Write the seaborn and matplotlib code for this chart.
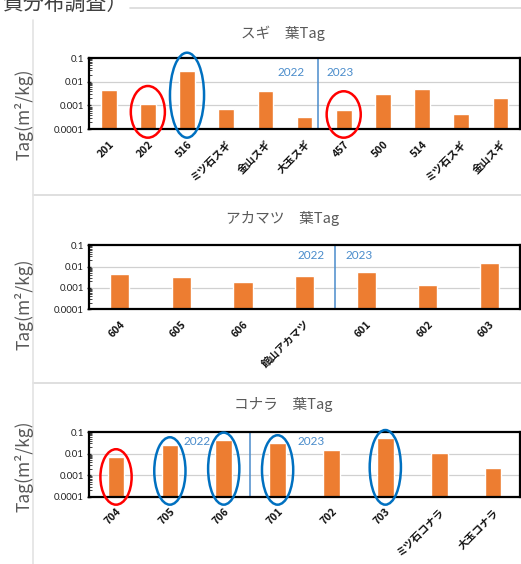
import numpy as np
import pandas as pd
import seaborn as sns
import matplotlib.pyplot as plt
from matplotlib.patches import Ellipse
from matplotlib.lines import Line2D
from matplotlib.transforms import blended_transform_factory
from matplotlib.ticker import LogLocator, NullFormatter, FixedLocator

# --- data ---
sugi_labels = ["201", "202", "516", "ミツ石スギ", "金山スギ", "大玉スギ",
               "457", "500", "514", "ミツ石スギ", "金山スギ"]
sugi_values = [0.0046, 0.0011, 0.028, 0.0007, 0.0042, 0.00034,
               0.00066, 0.0031, 0.0048, 0.00045, 0.0020]

akamatsu_labels = ["604", "605", "606", "館山アカマツ", "601", "602", "603"]
akamatsu_values = [0.0047, 0.0033, 0.0019, 0.0035, 0.0056, 0.0014, 0.0145]

konara_labels = ["704", "705", "706", "701", "702", "703", "ミツ石コナラ", "大玉コナラ"]
konara_values = [0.0070, 0.025, 0.041, 0.031, 0.014, 0.054, 0.0105, 0.0021]

titles = ["スギ\u3000葉Tag", "アカマツ\u3000葉Tag", "コナラ\u3000葉Tag"]
year_split = [5.35, 3.5, 2.48]          # position of the 2022/2023 divider
highlight_red = [[1, 6], [], [0]]
highlight_blue = [[2], [], [1, 2, 3, 5]]

sns.set_theme(style="white")
plt.rcParams["font.family"] = ["Noto Sans CJK JP", "DejaVu Sans"]

orange = "#ED7D31"
blue = "#4A8CCB"

fig = plt.figure(figsize=(5.21, 5.64), dpi=100)

# axes boxes (figure fraction) and label placement per panel
boxes = [[0.171, 0.771, 0.827, 0.126],
         [0.171, 0.452, 0.827, 0.113],
         [0.171, 0.119, 0.827, 0.115]]
bar_w = [0.40, 0.31, 0.31]
title_y = [0.941, 0.613, 0.282]
ylab_y = [0.798, 0.461, 0.174]
year_pos = [(5.01, 5.55, 0.80), (3.33, 3.66, 0.84), (1.75, 3.37, 0.86)]
ell_pad = [0.26, 0.0, 0.12]
ell_w = [0.87, 0.6, 0.58]

panels = [(sugi_labels, sugi_values), (akamatsu_labels, akamatsu_values),
          (konara_labels, konara_values)]

for k, (labels, values) in enumerate(panels):
    ax = fig.add_axes(boxes[k])
    df = pd.DataFrame({"pos": np.arange(len(values)), "val": values})
    sns.barplot(data=df, x="pos", y="val", color=orange, saturation=1,
                width=bar_w[k], ax=ax)
    ax.set_yscale("log")
    ax.set_ylim(1e-4, 0.1)
    ax.set_xlim(-0.5, len(values) - 0.5)
    ax.yaxis.set_major_locator(FixedLocator([1e-4, 1e-3, 1e-2, 1e-1]))
    ax.set_yticklabels(["0.0001", "0.001", "0.01", "0.1"],
                       fontsize=7, color="#222222", family=["Lato", "DejaVu Sans"])
    ax.yaxis.set_minor_locator(LogLocator(base=10, subs=np.arange(2, 10)))
    ax.yaxis.set_minor_formatter(NullFormatter())
    ax.tick_params(axis="y", which="major", left=True, length=3, width=1,
                   direction="inout", pad=2)
    ax.tick_params(axis="y", which="minor", left=True, length=2, width=0.6,
                   direction="in")
    ax.tick_params(axis="x", bottom=False, pad=1)
    for y in [1e-3, 1e-2]:
        ax.axhline(y, color="#D0D0D0", lw=0.9, zorder=0)
    for s in ax.spines.values():
        s.set_color("black")
        s.set_linewidth(1.6)
    ax.set_xticks(range(len(labels)))
    ax.set_xticklabels(labels, rotation=45, ha="right", va="top",
                       rotation_mode="anchor", fontsize=7.5, fontweight="bold",
                       color="#111111")
    ax.set_xlabel("")
    ax.set_ylabel("")

    # year divider and labels
    ax.axvline(year_split[k], color=blue, lw=1.1)
    ylab = year_pos[k]
    ax.text(ylab[0], ylab[2], "2022", transform=ax.get_xaxis_transform(),
            ha="right", va="center", fontsize=8.5, color=blue,
            family=["Lato", "DejaVu Sans"])
    ax.text(ylab[1], ylab[2], "2023", transform=ax.get_xaxis_transform(),
            ha="left", va="center", fontsize=8.5, color=blue,
            family=["Lato", "DejaVu Sans"])

    # highlight ellipses around bars
    tr = blended_transform_factory(ax.transData, ax.transAxes)
    for col, idxs in [("#FF0000", highlight_red[k]), ("#0070C0", highlight_blue[k])]:
        for i in idxs:
            top = (np.log10(values[i]) + 4) / 3 + ell_pad[k]
            bot = -0.12
            e = Ellipse((i, (top + bot) / 2), ell_w[k], top - bot,
                        transform=tr, fill=False, edgecolor=col, lw=1.8,
                        clip_on=False, zorder=5)
            ax.add_patch(e)

    fig.text(0.543, title_y[k], titles[k], ha="center", va="center",
             fontsize=10.5, color="#595959")
    fig.text(0.046, ylab_y[k], "Tag(m²/kg)", ha="center", va="center",
             rotation=90, fontsize=12.5, color="#595959")

# slide frame lines
for y0, x0 in [(1 - 8 / 564, 130 / 521), (1 - 195 / 564, 33 / 521), (1 - 383 / 564, 33 / 521)]:
    fig.add_artist(Line2D([x0, 1], [y0, y0], color="#D9D9D9", lw=1.2))
fig.add_artist(Line2D([33 / 521, 33 / 521], [0, 1 - 20 / 564], color="#E3E3E3", lw=1.2))

fig.text(127 / 521, 1 - 4 / 564, "質分布調査）", ha="right", va="center",
         fontsize=15, color="#404040")

fig.savefig("out.png", dpi=100)
